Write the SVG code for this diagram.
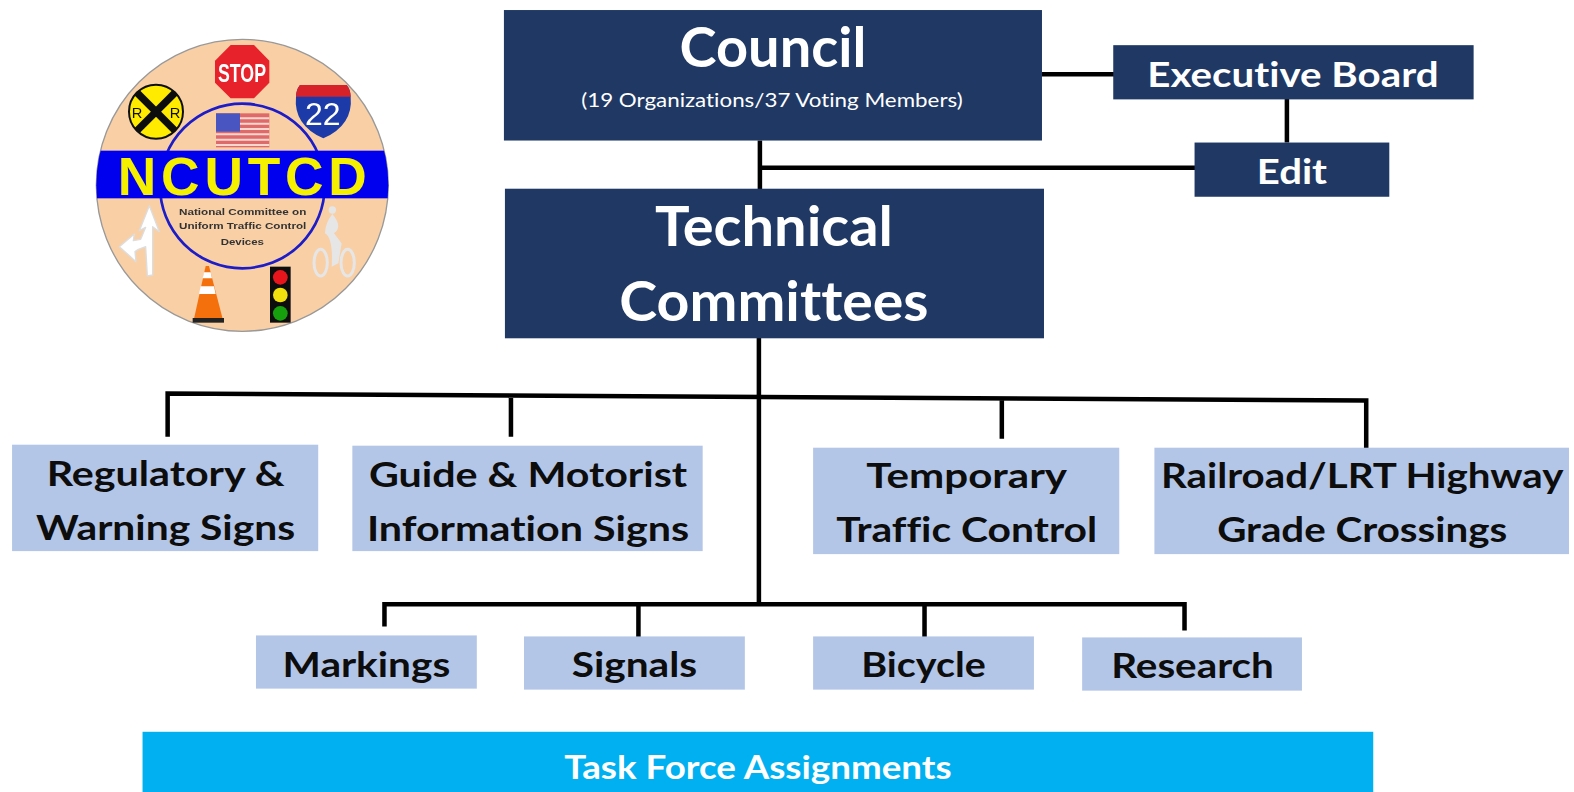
<svg xmlns="http://www.w3.org/2000/svg" width="1574" height="792" viewBox="0 0 1574 792">
<style>
text{font-family:Lato,"Open Sans","Liberation Sans",sans-serif;text-anchor:middle;font-weight:700;font-variant-ligatures:none}
.dark{fill:#1f3864}
.light{fill:#b4c6e7}
.w{fill:#fff}
.k{fill:#0d0d0d;font-size:35px}
.c{fill:none;stroke:#000;stroke-width:4.500}
.lg{font-family:"Liberation Sans",sans-serif}
</style>
<defs>
<clipPath id="disc"><circle cx="487" cy="466" r="438"/></clipPath>
<filter id="soft" x="-5%" y="-5%" width="110%" height="110%"><feGaussianBlur stdDeviation="1.500"/></filter>
</defs>
<rect width="1574" height="792" fill="#fff"/>
<g id="logo" transform="translate(80 30) scale(.33333)" filter="url(#soft)">
<circle cx="487" cy="466" r="438" fill="#f9cfa6" stroke="#999" stroke-width="4"/>
<polygon points="452,45 522,45 568,92 568,158 522,205 452,205 405,158 405,92" fill="#e8202a"/>
<text class="lg w" x="486" y="155" font-size="80" textLength="144" lengthAdjust="spacingAndGlyphs">STOP</text>
<circle cx="228" cy="245" r="81" fill="#ffeb00" stroke="#111" stroke-width="6"/>
<path d="M170,187L286,303M286,187L170,303" stroke="#111" stroke-width="22"/>
<text class="lg" x="171" y="264" font-size="44" fill="#111" style="font-weight:400">R</text>
<text class="lg" x="285" y="264" font-size="44" fill="#111" style="font-weight:400">R</text>
<path d="M648,200Q648,180 660,165H800Q812,180 812,200Q820,285 730,325Q640,285 648,200Z" fill="#1a3aa8"/>
<path d="M648,200Q648,180 660,165H800Q812,180 812,200Z" fill="#d8202c"/>
<text class="lg w" x="728" y="285" font-size="96" style="font-weight:400">22</text>
<circle cx="487" cy="468" r="247" fill="none" stroke="#1c1cc8" stroke-width="8"/>
<rect x="408" y="250" width="160" height="102" fill="#e06a6a"/>
<path d="M408,265H568M408,281H568M408,297H568M408,313H568M408,329H568M408,345H568" stroke="#f6d8d0" stroke-width="6"/>
<rect x="408" y="250" width="72" height="55" fill="#4a55c0"/>
<rect x="40" y="362" width="890" height="143" fill="#0000ee" clip-path="url(#disc)"/>
<text class="lg" x="487" y="495" font-size="160" fill="#f5f000" textLength="747" lengthAdjust="spacing" style="font-weight:700">NCUTCD</text>
<text class="lg" x="488" y="555" font-size="28" fill="#333" textLength="382" lengthAdjust="spacingAndGlyphs">National Committee on</text>
<text class="lg" x="488" y="598" font-size="28" fill="#333" textLength="382" lengthAdjust="spacingAndGlyphs">Uniform Traffic Control</text>
<text class="lg" x="487" y="645" font-size="28" fill="#333" textLength="130" lengthAdjust="spacingAndGlyphs">Devices</text>
<polygon points="208,527 238,605 218,590 218,735 202,738 197,650 175,658 165,665 168,695 118,650 163,612 160,632 182,628 197,592 178,602" fill="#fff" stroke="#ddd" stroke-width="4" stroke-linejoin="round"/>
<g fill="none" stroke="#e6e6e6" stroke-width="9">
<ellipse cx="722" cy="698" rx="20" ry="40"/>
<ellipse cx="803" cy="698" rx="20" ry="40"/>
</g>
<path d="M757,552Q735,580 735,610Q760,625 755,710L775,700L785,640L762,610Q790,590 757,552Z" fill="#e6e6e6"/>
<circle cx="757" cy="540" r="11" fill="#e6e6e6"/>
<polygon points="377,708 387,708 428,866 342,866" fill="#f47010"/>
<polygon points="372,727 392,727 396,745 368,745" fill="#fff"/>
<polygon points="362,769 402,769 407,792 357,792" fill="#fff"/>
<rect x="338" y="864" width="94" height="14" fill="#222"/>
<rect x="570" y="710" width="62" height="168" fill="#111"/>
<circle cx="601" cy="742" r="22" fill="#e8141c"/>
<circle cx="601" cy="795" r="22" fill="#f0e010"/>
<circle cx="601" cy="850" r="22" fill="#18a010"/>
</g>
<g transform="scale(1.00383)">
<g id="connectors">
<path class="c" d="M1038,74H1112M1282,98V142M757,140V190M757,167H1191"/>
<path class="c" d="M756,336V601M167,435V392L1361,399V451M509,393V435M998,397V437M383,624V602H1180V628M636,602V635M921,602V635"/>
</g>
<g id="council">
<rect class="dark" x="502" y="10" width="536" height="130"/>
<text class="w" x="770" y="67" font-size="55" textLength="186" lengthAdjust="spacingAndGlyphs">Council</text>
<text class="w" x="769" y="107" font-size="19" textLength="380" lengthAdjust="spacingAndGlyphs" style="font-weight:400">(19 Organizations/37 Voting Members)</text>
</g>
<g id="executive-board">
<rect class="dark" x="1109" y="45" width="359" height="54"/>
<text class="w" x="1288" y="87" font-size="35" textLength="290" lengthAdjust="spacingAndGlyphs">Executive Board</text>
</g>
<g id="edit">
<rect class="dark" x="1190" y="142" width="194" height="54"/>
<text class="w" x="1287" y="183" font-size="35" textLength="70" lengthAdjust="spacingAndGlyphs">Edit</text>
</g>
<g id="technical-committees">
<rect class="dark" x="503" y="188" width="537" height="149"/>
<text class="w" x="771" y="245" font-size="55" textLength="237" lengthAdjust="spacingAndGlyphs">Technical</text>
<text class="w" x="771" y="320" font-size="55" textLength="308" lengthAdjust="spacingAndGlyphs">Committees</text>
</g>
<g id="regulatory">
<rect class="light" x="12" y="443" width="305" height="106"/>
<text class="k" x="165" y="484" textLength="237" lengthAdjust="spacingAndGlyphs">Regulatory &amp;</text>
<text class="k" x="165" y="538" textLength="258" lengthAdjust="spacingAndGlyphs">Warning Signs</text>
</g>
<g id="guide">
<rect class="light" x="351" y="444" width="349" height="105"/>
<text class="k" x="526" y="485" textLength="317" lengthAdjust="spacingAndGlyphs">Guide &amp; Motorist</text>
<text class="k" x="526" y="539" textLength="321" lengthAdjust="spacingAndGlyphs">Information Signs</text>
</g>
<g id="temporary">
<rect class="light" x="810" y="446" width="305" height="106"/>
<text class="k" x="963" y="486" textLength="200" lengthAdjust="spacingAndGlyphs">Temporary</text>
<text class="k" x="963" y="540" textLength="260" lengthAdjust="spacingAndGlyphs">Traffic Control</text>
</g>
<g id="railroad">
<rect class="light" x="1150" y="446" width="413" height="106"/>
<text class="k" x="1357" y="486" textLength="401" lengthAdjust="spacingAndGlyphs">Railroad/LRT Highway</text>
<text class="k" x="1357" y="540" textLength="289" lengthAdjust="spacingAndGlyphs">Grade Crossings</text>
</g>
<g id="markings">
<rect class="light" x="255" y="633" width="220" height="53"/>
<text class="k" x="365" y="674" textLength="167" lengthAdjust="spacingAndGlyphs">Markings</text>
</g>
<g id="signals">
<rect class="light" x="522" y="634" width="220" height="53"/>
<text class="k" x="632" y="674" textLength="125" lengthAdjust="spacingAndGlyphs">Signals</text>
</g>
<g id="bicycle">
<rect class="light" x="810" y="634" width="220" height="53"/>
<text class="k" x="920" y="674" textLength="124" lengthAdjust="spacingAndGlyphs">Bicycle</text>
</g>
<g id="research">
<rect class="light" x="1078" y="635" width="219" height="53"/>
<text class="k" x="1188" y="675" textLength="162" lengthAdjust="spacingAndGlyphs">Research</text>
</g>
<g id="task-force">
<rect x="142" y="729" width="1226" height="63" fill="#00b0f0"/>
<text class="w" x="755" y="776" font-size="32" textLength="386" lengthAdjust="spacingAndGlyphs">Task Force Assignments</text>
</g>
</g>
</svg>
